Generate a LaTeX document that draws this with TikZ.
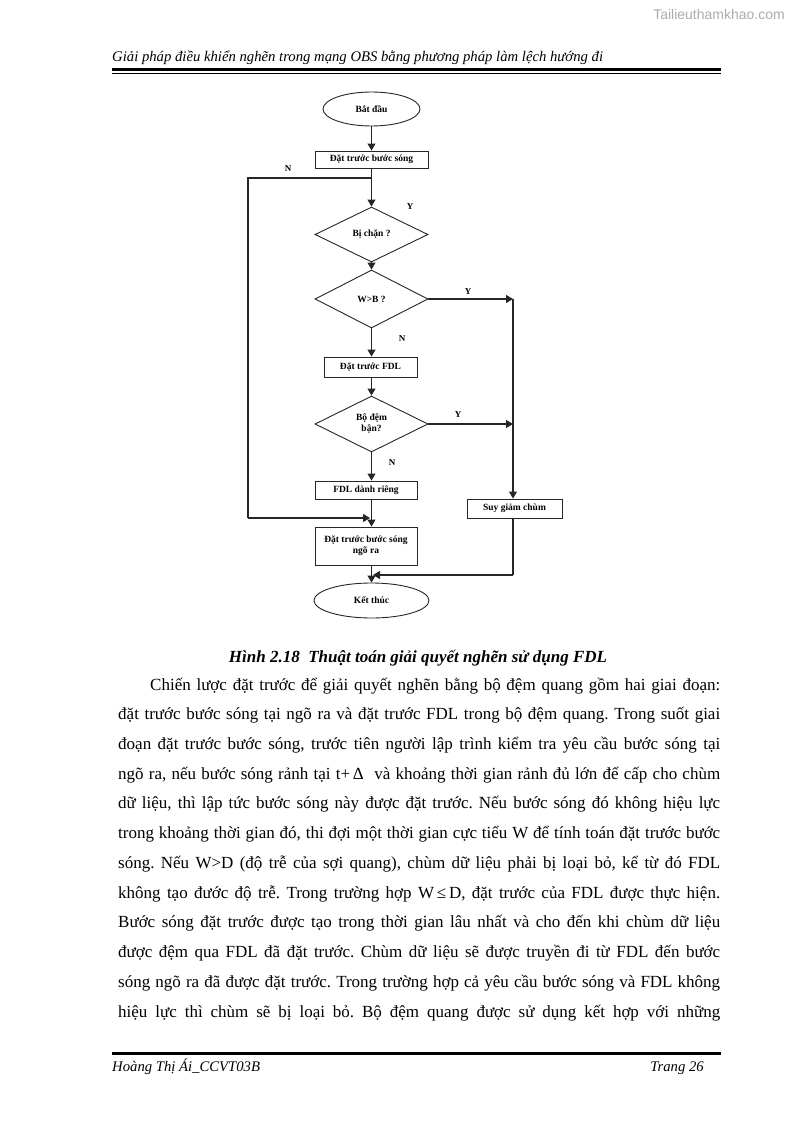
\documentclass[tikz,border=0pt]{standalone}
\usepackage{fontspec}
\setmainfont{Liberation Serif}
\newfontfamily\wmfont{Liberation Sans}
\usetikzlibrary{shapes.geometric,arrows.meta}
\frenchspacing
\tikzset{
  flow/.style={draw=black!85, line width=1.1pt},
  arr/.style={flow, -{Triangle[length=7pt,width=8pt]}},
  boxnode/.style={draw=black!85, line width=0.9pt, rectangle, inner sep=0pt, align=center, font=\bfseries\fontsize{9.5}{11}\selectfont},
  termnode/.style={draw=black!85, line width=0.9pt, ellipse, inner sep=0pt, font=\bfseries\fontsize{9.5}{11}\selectfont},
  decnode/.style={draw=black!85, line width=0.9pt, diamond, inner sep=0pt, align=center, font=\bfseries\fontsize{9.5}{11}\selectfont},
  lbl/.style={font=\bfseries\fontsize{9}{10}\selectfont, inner sep=0pt},
  body/.style={anchor=base west, inner sep=0pt, font=\fontsize{17}{20}\selectfont},
}
\begin{document}
\begin{tikzpicture}[x=1pt,y=-1pt]
\useasboundingbox (0,0) rectangle (794,1123);
\fill[white] (0,0) rectangle (794,1123);

% watermark and header
\node[anchor=east, inner sep=0pt, text=gray!65, font=\wmfont\fontsize{14}{16}\selectfont] (wm) at (785,15) {Tailieuthamkhao.com};
\node[anchor=base west, inner sep=0pt, font=\itshape\fontsize{14.7}{17}\selectfont] (hdr) at (112,62) {Giải pháp điều khiển nghẽn trong mạng OBS bằng phương pháp làm lệch hướng đi};
\fill (112,68) rectangle (721,71.3);
\fill (112,72.8) rectangle (721,73.8);

% flowchart nodes
\node[termnode, minimum width=97pt, minimum height=34pt] (start) at (371.5,109) {Bắt đầu};
\node[boxnode, minimum width=113pt, minimum height=17pt] (b1) at (371.5,159.5) {Đặt trước bước sóng};
\node[decnode, minimum width=113pt, minimum height=55pt] (d1) at (371.5,234.5) {Bị chặn ?};
\node[decnode, minimum width=113pt, minimum height=58pt] (d2) at (371.5,299) {W>B ?};
\node[boxnode, minimum width=93pt, minimum height=20pt] (b2) at (370.5,367) {Đặt trước FDL};
\node[decnode, minimum width=113pt, minimum height=56pt] (d3) at (371.5,424) {Bộ đệm\\bận?};
\node[boxnode, minimum width=102pt, minimum height=18pt] (b3) at (366,490) {FDL dành riêng};
\node[boxnode, minimum width=102pt, minimum height=38pt] (b4) at (366,546) {Đặt trước bước sóng\\ngõ ra};
\node[boxnode, minimum width=95pt, minimum height=19pt] (sg) at (514.5,508.5) {Suy giảm chùm};
\node[termnode, minimum width=115pt, minimum height=35pt] (end) at (371.5,600.5) {Kết thúc};

% helper coordinates
\coordinate (jn) at (371.5,178);
\coordinate (nl1) at (248,178);
\coordinate (nl2) at (248,518);
\coordinate (m1) at (370,518);
\coordinate (r1) at (513,299);
\coordinate (r2) at (513,424);
\coordinate (s1) at (513,575);
\coordinate (m2) at (373,575);

% connectors
\draw[arr] (start) -- (b1);
\draw[arr] (b1) -- (d1);
\draw[flow] (jn) -- (nl1) -- (nl2);
\draw[arr] (nl2) -- (m1);
\draw[arr] (d1) -- (d2);
\draw[arr] (d2.east) -- (r1);
\draw[arr] (d2.south) -- (d2.south |- b2.north);
\draw[arr] (b2.south -| d2.south) -- (d3.north);
\draw[arr] (d3.east) -- (r2);
\draw[arr] (d3.south) -- (d3.south |- b3.north);
\draw[arr] (b3.south -| d3.south) -- (b4.north -| d3.south);
\draw[arr] (r1) -- (r1 |- sg.north);
\draw[flow] (r1 |- sg.south) -- (s1);
\draw[arr] (s1) -- (m2);
\draw[arr] (b4.south -| end.north) -- (end.north);

% branch labels
\node[lbl] (lN1) at (288,169) {N};
\node[lbl] (lY1) at (410,207) {Y};
\node[lbl] (lY2) at (468,292) {Y};
\node[lbl] (lN2) at (402,339) {N};
\node[lbl] (lY3) at (458,415) {Y};
\node[lbl] (lN3) at (392,463) {N};

% caption
\node[anchor=base, inner sep=0pt, font=\bfseries\itshape\fontsize{17}{20}\selectfont] (cap) at (418,662) {Hình 2.18\enspace Thuật toán giải quyết nghẽn sử dụng FDL};

% body text
\node[body] (t1) at (150,690) {\makebox[570pt][s]{Chiến lược đặt trước để giải quyết nghẽn bằng bộ đệm quang gồm hai giai đoạn:}};
\node[body] (t2) at (118,719.7) {\makebox[602pt][s]{đặt trước bước sóng tại ngõ ra và đặt trước FDL trong bộ đệm quang. Trong suốt giai}};
\node[body] (t3) at (118,749.5) {\makebox[602pt][s]{đoạn đặt trước bước sóng, trước tiên người lập trình kiểm tra yêu cầu bước sóng tại}};
\node[body] (t4) at (118,779.2) {\makebox[602pt][s]{ngõ ra, nếu bước sóng rảnh tại t+\,Δ\ \ và khoảng thời gian rảnh đủ lớn để cấp cho chùm}};
\node[body] (t5) at (118,808.9) {\makebox[602pt][s]{dữ liệu, thì lập tức bước sóng này được đặt trước. Nếu bước sóng đó không hiệu lực}};
\node[body] (t6) at (118,838.7) {\makebox[602pt][s]{trong khoảng thời gian đó, thi đợi một thời gian cực tiểu W để tính toán đặt trước bước}};
\node[body] (t7) at (118,868.4) {\makebox[602pt][s]{sóng. Nếu W>D (độ trễ của sợi quang), chùm dữ liệu phải bị loại bỏ, kể từ đó FDL}};
\node[body] (t8) at (118,898.1) {\makebox[602pt][s]{không tạo đước độ trễ. Trong trường hợp W\,≤\,D, đặt trước của FDL được thực hiện.}};
\node[body] (t9) at (118,927.8) {\makebox[602pt][s]{Bước sóng đặt trước được tạo trong thời gian lâu nhất và cho đến khi chùm dữ liệu}};
\node[body] (t10) at (118,957.6) {\makebox[602pt][s]{được đệm qua FDL đã đặt trước. Chùm dữ liệu sẽ được truyền đi từ FDL đến bước}};
\node[body] (t11) at (118,987.3) {\makebox[602pt][s]{sóng ngõ ra đã được đặt trước. Trong trường hợp cả yêu cầu bước sóng và FDL không}};
\node[body] (t12) at (118,1017) {\makebox[602pt][s]{hiệu lực thì chùm sẽ bị loại bỏ. Bộ đệm quang được sử dụng kết hợp với những}};

% footer
\fill (112,1051.5) rectangle (721,1055);
\node[anchor=base west, inner sep=0pt, font=\itshape\fontsize{14.7}{17}\selectfont] (ft1) at (112,1071) {Hoàng Thị Ái\_CCVT03B};
\node[anchor=base east, inner sep=0pt, font=\itshape\fontsize{14.7}{17}\selectfont] (ft2) at (704,1071) {Trang 26};
\end{tikzpicture}
\end{document}
